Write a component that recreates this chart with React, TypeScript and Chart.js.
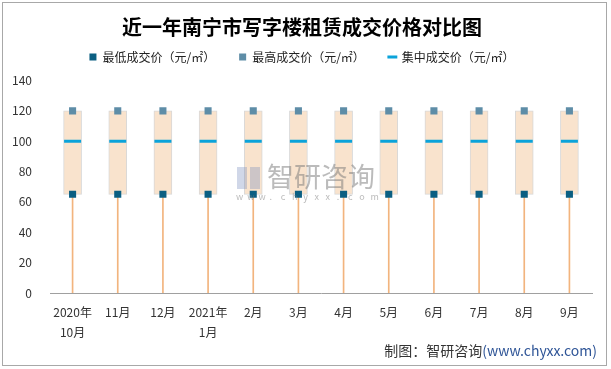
import React, { useEffect, useRef } from "react";
import { Chart, registerables } from "chart.js";

Chart.register(...registerables);

const categories: (string | string[])[] = [
  ["2020年", "10月"], "11月", "12月", ["2021年", "1月"], "2月", "3月",
  "4月", "5月", "6月", "7月", "8月", "9月",
];
const minPrice = [65, 65, 65, 65, 65, 65, 65, 65, 65, 65, 65, 65];
const maxPrice = [120, 120, 120, 120, 120, 120, 120, 120, 120, 120, 120, 120];
const midPrice = [100, 100, 100, 100, 100, 100, 100, 100, 100, 100, 100, 100];
const yTicks = [0, 20, 40, 60, 80, 100, 120, 140];

const FONT = "'Noto Sans CJK SC', 'Noto Sans', sans-serif";

export default function App() {
  const ref = useRef<HTMLCanvasElement>(null);
  useEffect(() => {
    document.body.style.margin = "0";
    const extras = {
      id: "extras",
      beforeLayout(chart: any) {
        const lg = chart.legend;
        if (lg && !lg._patchedFit) {
          const f = lg.fit;
          lg.fit = function () {
            f.call(this);
            this.height -= 2.5;
          };
          lg._patchedFit = true;
        }
      },
      afterLayout(chart: any) {
        const lg = chart.legend;
        if (lg) {
          lg.top -= 10;
          lg.bottom -= 10;
        }
      },
      beforeDraw(chart: any) {
        const ctx = chart.ctx;
        ctx.save();
        ctx.fillStyle = "#ffffff";
        ctx.fillRect(0, 0, chart.width, chart.height);
        ctx.restore();
      },
      afterDraw(chart: any) {
        const ctx = chart.ctx;
        ctx.save();
        ctx.strokeStyle = "#a8a8a8";
        ctx.lineWidth = 1;
        ctx.strokeRect(2.5, 2.5, 604, 363);
        // watermark
        ctx.fillStyle = "rgba(120,120,120,0.5)";
        ctx.font = `27px ${FONT}`;
        ctx.textBaseline = "middle";
        ctx.textAlign = "left";
        ctx.fillText("智研咨询", 267, 177);
        ctx.font = `9px ${FONT}`;
        const s = "www.chyxx.com";
        for (let i = 0; i < s.length; i++) {
          ctx.fillText(s[i], 236 + i * 11.2, 197);
        }
        ctx.fillStyle = "rgba(120,140,190,0.35)";
        ctx.fillRect(237, 167, 10, 22);
        ctx.fillRect(250, 167, 10, 22);
        // source
        ctx.textAlign = "right";
        ctx.font = `14px ${FONT}`;
        ctx.fillStyle = "#2f5597";
        const w = "(www.chyxx.com)";
        ctx.fillText(w, 597, 351);
        const ww = ctx.measureText(w).width;
        ctx.fillStyle = "#333333";
        ctx.fillText("制图：智研咨询", 597 - ww, 351);
        ctx.restore();
      },
    };
    const chart = new Chart(ref.current!, {
      type: "bar",
      data: {
        labels: categories as any,
        datasets: [
          {
            type: "line",
            label: "最低成交价（元/㎡）",
            data: minPrice,
            showLine: false,
            pointStyle: "rect",
            pointRadius: 5,
            pointBackgroundColor: "#0b5f82",
            pointBorderColor: "#0b5f82",
            pointBorderWidth: 0,
            order: 0,
          } as any,
          {
            type: "line",
            label: "最高成交价（元/㎡）",
            data: maxPrice,
            showLine: false,
            pointStyle: "rect",
            pointRadius: 5,
            pointBackgroundColor: "#5e8da7",
            pointBorderColor: "#5e8da7",
            pointBorderWidth: 0,
            order: 0,
          },
          {
            type: "line",
            label: "集中成交价（元/㎡）",
            data: midPrice,
            showLine: false,
            pointStyle: "line",
            pointRadius: 8.5,
            pointBorderColor: "#0ba3da",
            pointBackgroundColor: "#0ba3da",
            pointBorderWidth: 3,
            order: 1,
          },
          {
            type: "bar",
            label: "box",
            data: minPrice.map((v, i) => [v, maxPrice[i]]),
            backgroundColor: "#f9e3cd",
            borderColor: "#d8d8d8",
            borderWidth: 1,
            borderSkipped: false,
            barThickness: 18,
            grouped: false,
            order: 2,
          },
          {
            type: "bar",
            label: "whisker",
            data: minPrice.map((v) => [0, v]),
            backgroundColor: "#f2b47e",
            borderWidth: 0,
            barThickness: 1,
            grouped: false,
            order: 3,
          },
        ] as any,
      },
      options: {
        animation: false,
        responsive: false,
        events: [],
        layout: { padding: { left: 12, right: 19, top: 8, bottom: 0 } },
        plugins: {
          tooltip: { enabled: false },
          title: {
            display: true,
            text: "近一年南宁市写字楼租赁成交价格对比图",
            color: "#000000",
            font: { family: FONT, size: 20, weight: "bold", lineHeight: 1 },
            padding: { top: 9, bottom: 0 },
          },
          legend: {
            display: true,
            labels: {
              filter: (item: any) => item.datasetIndex < 3,
              usePointStyle: true,
              boxWidth: 7,
              boxHeight: 7,
              padding: 24,
              color: "#222222",
              font: { family: FONT, size: 12 },
            },
          },
        },
        scales: {
          x: {
            grid: { display: false, drawTicks: false },
            border: { display: true, color: "#a0a0a0", width: 1 },
            ticks: {
              color: "#333333",
              font: { family: FONT, size: 12, lineHeight: 1.65 },
              padding: 10,
              maxRotation: 0,
              autoSkip: false,
            },
            afterFit: (s: any) => { s.height = 76; },
          },
          y: {
            min: 0,
            max: 140,
            grid: { display: false, drawTicks: false },
            border: { display: false },
            afterBuildTicks: (s: any) => { s.ticks = yTicks.map((v) => ({ value: v })); },
            ticks: {
              color: "#333333",
              font: { family: FONT, size: 12 },
              padding: 18,
            },
            afterFit: (s: any) => { s.width = 38; },
          },
        },
      },
      plugins: [extras],
    });
    return () => chart.destroy();
  }, []);
  return (
    <div style={{ width: 611, height: 369 }}>
      <canvas ref={ref} width={611} height={369} style={{ display: "block" }} />
    </div>
  );
}
